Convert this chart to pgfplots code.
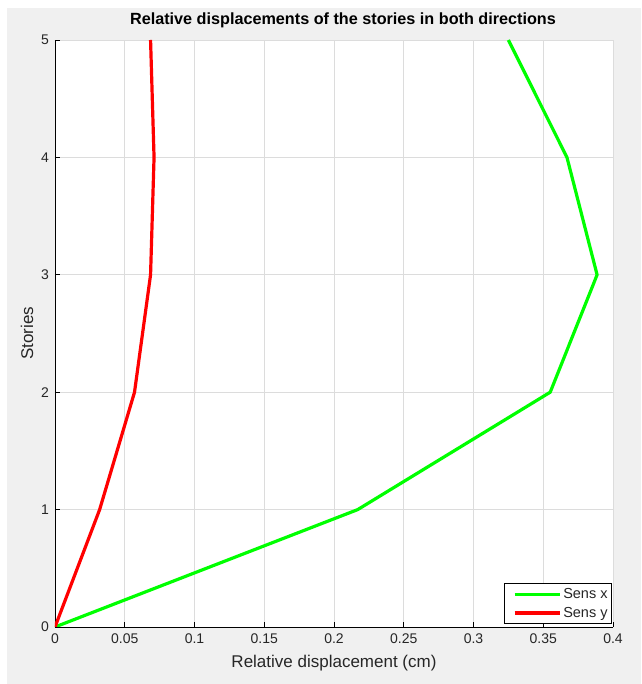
\documentclass[border=0pt]{standalone}
\usepackage{pgfplots}
\pgfplotsset{compat=1.18}
\usepackage{fontspec}
\setmainfont{Liberation Sans}
\definecolor{figbg}{HTML}{F0F0F0}
\definecolor{txt}{HTML}{262626}
\definecolor{gridc}{HTML}{DCDCDC}
\begin{document}
\begin{tikzpicture}[x=1pt,y=1pt]
\fill[white] (-55,-57) rectangle (586,627);
\fill[figbg] (-48,-57) rectangle (586,619);
\begin{axis}[
  at={(0,0)}, anchor=south west,
  scale only axis, width=558pt, height=587pt,
  xmin=0, xmax=0.4, ymin=0, ymax=5,
  xtick={0,0.05,...,0.4}, ytick={0,1,2,3,4,5},
  xticklabels={0,0.05,0.1,0.15,0.2,0.25,0.3,0.35,0.4},
  scaled x ticks=false,
  /pgf/number format/assume math mode=true,
  axis background/.style={fill=white},
  axis x line*=bottom, axis y line*=left,
  axis line style={black, line width=0.8pt},
  tick style={black, line width=0.6pt},
  major tick length=5pt,
  tick align=inside,
  grid=major, major grid style={gridc, line width=0.6pt},
  ticklabel style={font=\fontsize{14}{16}\selectfont, text=txt},
  yticklabel style={xshift=-2.5pt},
  xticklabel style={yshift=-3pt},
  title={\bfseries Relative displacements of the stories in both directions},
  title style={font=\fontsize{16.2}{18}\selectfont, text=black, at={(axis description cs:0.5,1)}, anchor=center, yshift=14pt, xshift=9pt},
  xlabel={Relative displacement (cm)},
  ylabel={Stories},
  every axis x label/.style={at={(axis description cs:0.5,-0.0613)}, anchor=center, font=\fontsize{17}{19}\selectfont, text=txt},
  every axis y label/.style={at={(axis description cs:-0.0502,0.5)}, anchor=center, rotate=90, font=\fontsize{17}{19}\selectfont, text=txt},
  legend style={at={(axis description cs:0.998,0.005)}, anchor=south east, font=\fontsize{14.5}{16}\selectfont, text=txt, draw=black, line width=0.6pt, inner xsep=2pt, inner ysep=3pt, row sep=3pt},
  legend cell align=left,
  legend image code/.code={\path (0pt,0pt); \draw[#1, line width=3.2pt] (7pt,0pt) -- (52pt,0pt);},
]
\addplot[color={rgb,255:red,0;green,255;blue,0}, line width=3.2pt, line join=round] coordinates {
(0,0) (0.217,1) (0.355,2) (0.3886,3) (0.367,4) (0.325,5)};
\addlegendentry{Sens x}
\addplot[color={rgb,255:red,255;green,0;blue,0}, line width=3.2pt, line join=round] coordinates {
(0,0) (0.032,1) (0.057,2) (0.0685,3) (0.071,4) (0.0685,5)};
\addlegendentry{Sens y}
\end{axis}
\end{tikzpicture}
\end{document}
